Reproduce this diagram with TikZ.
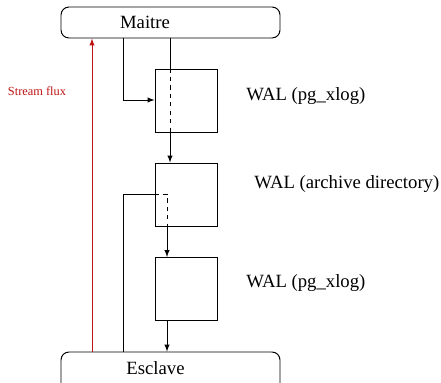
\documentclass[tikz,border=0pt]{standalone}
\usepackage{fontspec}
\setmainfont{Liberation Serif}
\usetikzlibrary{calc}
\definecolor{fluxred}{RGB}{190,20,20}

\begin{document}
\begin{tikzpicture}[line width=0.7pt, >=latex,
  server/.style={draw, rounded corners=0.2cm, minimum width=5.475cm, inner sep=0pt},
  walbox/.style={draw, minimum width=1.55cm, minimum height=1.575cm, inner sep=0pt},
  txt/.style={font=\fontsize{13.3}{15}\selectfont}]
  \useasboundingbox (0,0) rectangle (11.025,9.55);
  % servers
  \node [server, minimum height=0.775cm] (maitre) at (4.2625,8.9875) {};
  \node [server, minimum height=1.15cm] (esclave) at (4.2625,0.175) {};
  \node [txt] (maitretxt) at (3.625,9.0) {Maitre};
  \node [txt] (esclavetxt) at (3.8875,0.35) {Esclave};
  % WAL boxes
  \node [walbox] (wal1) at (4.65,7.0375) {};
  \node [walbox] (wal2) at (4.65,4.6875) {};
  \node [walbox] (wal3) at (4.65,2.325) {};
  \node [txt, anchor=west, inner sep=0pt] (lbl1) at (6.15,7.15) {WAL (pg\_xlog)};
  \node [txt, anchor=west, inner sep=0pt] (lbl2) at (6.35,4.95) {WAL (archive directory)};
  \node [txt, anchor=west, inner sep=0pt] (lbl3) at (6.15,2.475) {WAL (pg\_xlog)};
  \coordinate (b1) at (3.075,7.05);
  \coordinate (m1) at (4.25,8.6);
  \coordinate (b2) at (3.075,4.7);
  \coordinate (m2) at (4.175,4.7);
  % xlog of the master
  \draw[->] (maitre.south -| b1) -- (b1) -- (b1 -| wal1.west);
  \draw (m1) -- (m1 |- wal1.north);
  \draw[dashed] (m1 |- wal1.north) -- (m1 |- wal1.south);
  \draw[->] (m1 |- wal1.south) -- (m1 |- wal2.north);
  % archive -> xlog of the slave
  \draw (esclave.north -| b2) -- (b2) -- (b2 -| wal2.west);
  \draw[dashed] (b2 -| wal2.west) -- (m2) -- (m2 |- wal2.south);
  \draw[->] (m2 |- wal2.south) -- (m2 |- wal3.north);
  \draw[->] (m2 |- wal3.south) -- (m2 |- esclave.north);
  % streaming
  \draw[->, fluxred] (esclave.north -| 2.3,0) -- (maitre.south -| 2.3,0);
  \node [fluxred, font=\fontsize{8.8}{10}\selectfont] (flux) at (0.925,7.275) {Stream flux};
\end{tikzpicture}
\end{document}
